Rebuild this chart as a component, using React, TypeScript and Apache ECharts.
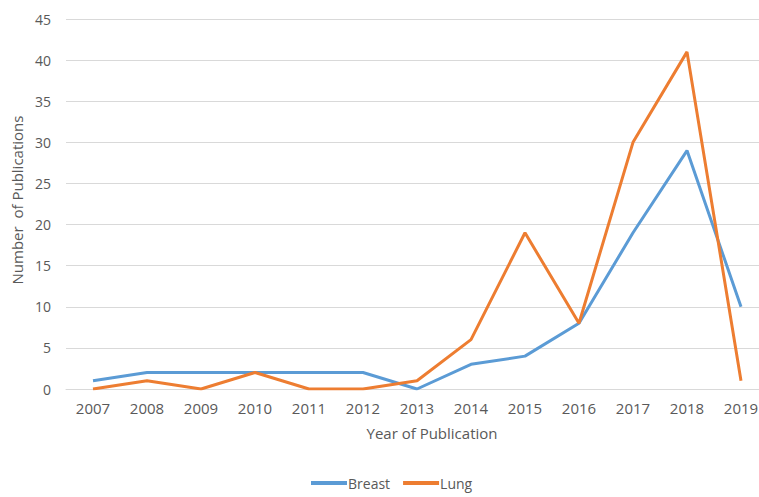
import React, { useEffect, useRef } from "react";
import * as echarts from "echarts";

const years = ["2007", "2008", "2009", "2010", "2011", "2012", "2013", "2014", "2015", "2016", "2017", "2018", "2019"];
const breast = [1, 2, 2, 2, 2, 2, 0, 3, 4, 8, 19, 29, 10];
const lung = [0, 1, 0, 2, 0, 0, 1, 6, 19, 8, 30, 41, 1];

const FONT = "'Open Sans', 'Noto Sans', sans-serif";

export default function App() {
  const ref = useRef<HTMLDivElement>(null);
  useEffect(() => {
    document.body.style.margin = "0";
    const chart = echarts.init(ref.current!, null, { renderer: "svg" });
    chart.setOption({
      animation: false,
      backgroundColor: "#ffffff",
      textStyle: { fontFamily: FONT },
      grid: { left: 66, top: 19, width: 702, height: 370, containLabel: false, outerBoundsMode: "none" },
      legend: {
        top: 476,
        left: 311,
        padding: 0,
        itemWidth: 36,
        itemHeight: 4,
        itemGap: 13,
        icon: "rect",
        textStyle: { color: "#595959", fontSize: 14, fontFamily: FONT, padding: [0, 0, 0, -4] },
        data: ["Breast", "Lung"],
      },
      xAxis: {
        type: "category",
        data: years,
        boundaryGap: true,
        name: "Year of Publication",
        nameLocation: "middle",
        nameGap: 36,
        nameTextStyle: { color: "#595959", fontSize: 15, fontFamily: FONT, padding: [0, 0, 0, 30] },
        axisLine: { lineStyle: { color: "#d9d9d9", width: 1 } },
        axisTick: { show: false },
        axisLabel: { color: "#595959", fontSize: 15, margin: 11, fontFamily: FONT },
      },
      yAxis: {
        type: "value",
        min: 0,
        max: 45,
        interval: 5,
        name: "Number  of Publications",
        nameLocation: "middle",
        nameGap: 40,
        nameTextStyle: { color: "#595959", fontSize: 15, fontFamily: FONT, padding: [0, 0, 0, 8] },
        axisLine: { show: false },
        axisTick: { show: false },
        axisLabel: { color: "#595959", fontSize: 14, margin: 15, fontFamily: FONT },
        splitLine: { lineStyle: { color: "#d9d9d9", width: 1 } },
      },
      series: [
        {
          name: "Breast",
          type: "line",
          data: breast,
          symbol: "none",
          lineStyle: { width: 3, color: "#5b9bd5" },
          itemStyle: { color: "#5b9bd5" },
        },
        {
          name: "Lung",
          type: "line",
          data: lung,
          symbol: "none",
          lineStyle: { width: 3, color: "#ed7d31" },
          itemStyle: { color: "#ed7d31" },
        },
      ],
    });
    return () => chart.dispose();
  }, []);
  return <div ref={ref} style={{ width: 759, height: 497 }} />;
}
